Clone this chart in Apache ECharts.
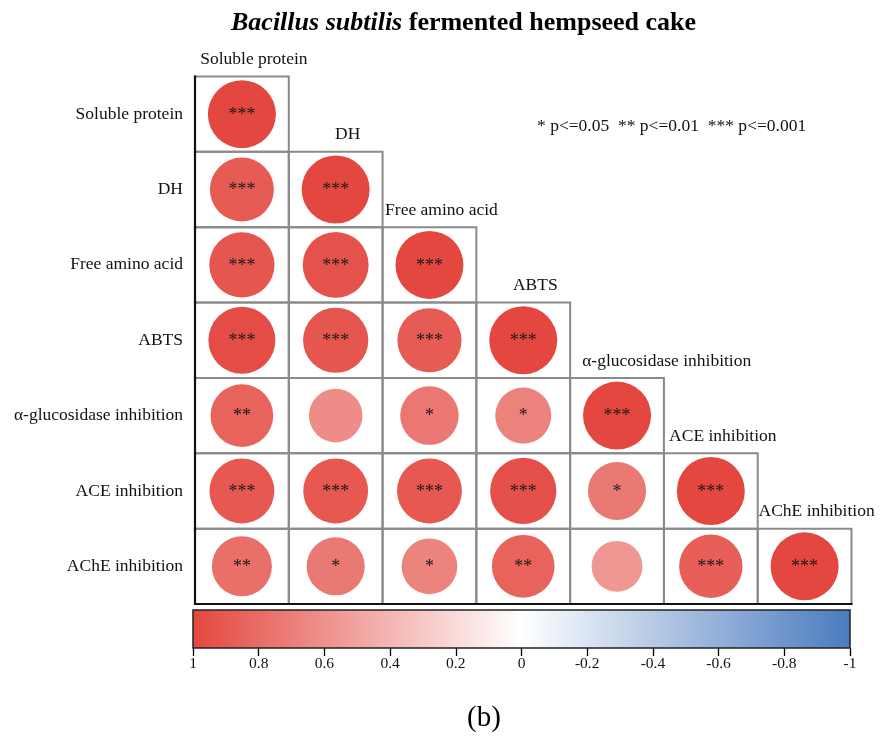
<!DOCTYPE html>
<html>
<head>
<meta charset="utf-8">
<script src="https://cdn.jsdelivr.net/npm/echarts@6/dist/echarts.min.js"></script>
<style>
html,body{margin:0;padding:0;background:#fff;}
#c{width:883px;height:737px;}
</style>
</head>
<body>
<div id="c"></div>
<script>
// ---- data ----
const variables = ['Soluble protein','DH','Free amino acid','ABTS','\u03b1-glucosidase inhibition','ACE inhibition','AChE inhibition'];
// lower-triangle correlation rows (column 0 .. diagonal)
const rSolubleProtein = [1];
const rDH            = [0.885, 1];
const rFreeAminoAcid = [0.92, 0.94, 1];
const rABTS          = [0.97, 0.92, 0.89, 1];
const rAlphaGluc     = [0.85, 0.62, 0.74, 0.68, 1];
const rACE           = [0.91, 0.91, 0.91, 0.95, 0.73, 1];
const rAChE          = [0.78, 0.73, 0.67, 0.85, 0.56, 0.87, 1];
// significance marks
const sSolubleProtein = ['***'];
const sDH            = ['***','***'];
const sFreeAminoAcid = ['***','***','***'];
const sABTS          = ['***','***','***','***'];
const sAlphaGluc     = ['**','','*','*','***'];
const sACE           = ['***','***','***','***','*','***'];
const sAChE          = ['**','*','*','**','','***','***'];
const colorbarTicks = [1, 0.8, 0.6, 0.4, 0.2, 0, -0.2, -0.4, -0.6, -0.8, -1];
const titleText = ['Bacillus subtilis', ' fermented hempseed cake'];
const pLegend = '* p<=0.05  ** p<=0.01  *** p<=0.001';
const panelTag = '(b)';

const rRows = [rSolubleProtein, rDH, rFreeAminoAcid, rABTS, rAlphaGluc, rACE, rAChE];
const sRows = [sSolubleProtein, sDH, sFreeAminoAcid, sABTS, sAlphaGluc, sACE, sAChE];

const circleData = [];
const cellData = [];
rRows.forEach((row, y) => {
  row.forEach((r, x) => {
    circleData.push({ value: [x, y, r], stars: sRows[y][x] });
    cellData.push([x, y]);
  });
});

const RED = '#e3473f', WHITE = '#ffffff', BLUE = '#4a7bbf';
const FONT = "'Liberation Serif', 'Times New Roman', serif";
const n = variables.length;

const chart = echarts.init(document.getElementById('c'), null, { renderer: 'canvas' });

chart.setOption({
  animation: false,
  backgroundColor: '#fff',
  title: {
    text: '{i|' + titleText[0] + '}{b|' + titleText[1] + '}',
    left: 226, top: 5,
    textStyle: {
      rich: {
        i: { fontFamily: FONT, fontSize: 26, fontWeight: 'bold', fontStyle: 'italic', color: '#000' },
        b: { fontFamily: FONT, fontSize: 26, fontWeight: 'bold', color: '#000' }
      }
    }
  },
  graphic: [
    { type: 'text', left: 537, top: 117, style: { text: pLegend, font: "17.5px " + FONT, fill: '#111' } },
    { type: 'text', left: 467, top: 704, style: { text: panelTag, font: "29px " + FONT, fill: '#000' } }
  ],
  grid: [
    { left: 195, right: 31.5, top: 76.5, bottom: 133 },
    { left: 193, right: 33, top: 610, height: 38 }
  ],
  xAxis: [
    { type: 'category', gridIndex: 0, data: variables, axisLine: { show: false }, axisTick: { show: false }, axisLabel: { show: false }, splitLine: { show: false } },
    { type: 'value', gridIndex: 1, min: -1, max: 1, interval: 0.2, inverse: true,
      axisLine: { show: false },
      axisTick: { show: true, length: 8, lineStyle: { color: '#000', width: 1.3 } },
      axisLabel: { fontFamily: FONT, fontSize: 15.5, color: '#111', margin: 8,
        formatter: v => { const t = colorbarTicks.find(k => Math.abs(k - v) < 1e-6); return t === undefined ? '' : String(t); } },
      splitLine: { show: false } }
  ],
  yAxis: [
    { type: 'category', gridIndex: 0, data: variables, inverse: true,
      axisLine: { show: false }, axisTick: { show: false }, splitLine: { show: false },
      axisLabel: { fontFamily: FONT, fontSize: 17.5, color: '#111', margin: 12 } },
    { type: 'value', gridIndex: 1, min: 0, max: 1, show: false }
  ],
  visualMap: {
    type: 'continuous', show: false, min: -1, max: 1, dimension: 2, seriesIndex: 1,
    inRange: { color: [BLUE, WHITE, RED] }
  },
  series: [
    {
      type: 'custom', xAxisIndex: 0, yAxisIndex: 0, z: 1, silent: true,
      data: cellData,
      renderItem: (params, api) => {
        const x = api.value(0), y = api.value(1);
        const c = api.coord([x, y]);
        const s = api.size([1, 1]);
        const l = c[0] - s[0] / 2, t = c[1] - s[1] / 2;
        const children = [{
          type: 'rect', shape: { x: l, y: t, width: s[0], height: s[1] },
          style: { fill: 'none', stroke: '#8a8a8a', lineWidth: 2 }
        }];
        if (x === 0) children.push({ type: 'line', shape: { x1: l, y1: t - 1, x2: l, y2: t + s[1] + 1 }, style: { stroke: '#111', lineWidth: 2.2 }, z2: 5 });
        if (y === n - 1) children.push({ type: 'line', shape: { x1: l - 1, y1: t + s[1], x2: l + s[0] + 1, y2: t + s[1] }, style: { stroke: '#111', lineWidth: 2.2 }, z2: 5 });
        return { type: 'group', children };
      }
    },
    {
      type: 'scatter', xAxisIndex: 0, yAxisIndex: 0, z: 3,
      data: circleData,
      symbol: 'circle',
      symbolSize: v => 68 * Math.sqrt(Math.abs(v[2])),
      itemStyle: { opacity: 1 },
      label: {
        show: true, position: 'inside', formatter: p => p.data.stars,
        fontFamily: FONT, fontSize: 18, color: '#1a1a1a', offset: [0, 1]
      }
    },
    {
      type: 'custom', xAxisIndex: 0, yAxisIndex: 0, z: 4, silent: true,
      data: variables.map((v, i) => [i, i]),
      renderItem: (params, api) => {
        const i = api.value(0);
        const c = api.coord([i, i]);
        const s = api.size([1, 1]);
        const leftAligned = (i === 4);
        const x = leftAligned ? c[0] - s[0] / 2 + 12 : c[0] + 12;
        return {
          type: 'text',
          style: {
            x: x, y: c[1] - s[1] / 2 - 17,
            text: variables[i], font: '17.5px ' + FONT, fill: '#111',
            textAlign: leftAligned ? 'left' : 'center', textVerticalAlign: 'middle'
          }
        };
      }
    },
    {
      type: 'custom', xAxisIndex: 1, yAxisIndex: 1, z: 2, silent: true,
      data: [[colorbarTicks[0], colorbarTicks[colorbarTicks.length - 1]]],
      renderItem: (params, api) => {
        const p1 = api.coord([api.value(0), 1]);
        const p2 = api.coord([api.value(1), 0]);
        return {
          type: 'rect',
          shape: { x: p1[0], y: p1[1], width: p2[0] - p1[0], height: p2[1] - p1[1] },
          style: {
            fill: new echarts.graphic.LinearGradient(0, 0, 1, 0, [
              { offset: 0, color: RED }, { offset: 0.5, color: WHITE }, { offset: 1, color: BLUE }
            ]),
            stroke: '#222', lineWidth: 1.5
          }
        };
      }
    }
  ]
});
</script>
</body>
</html>
